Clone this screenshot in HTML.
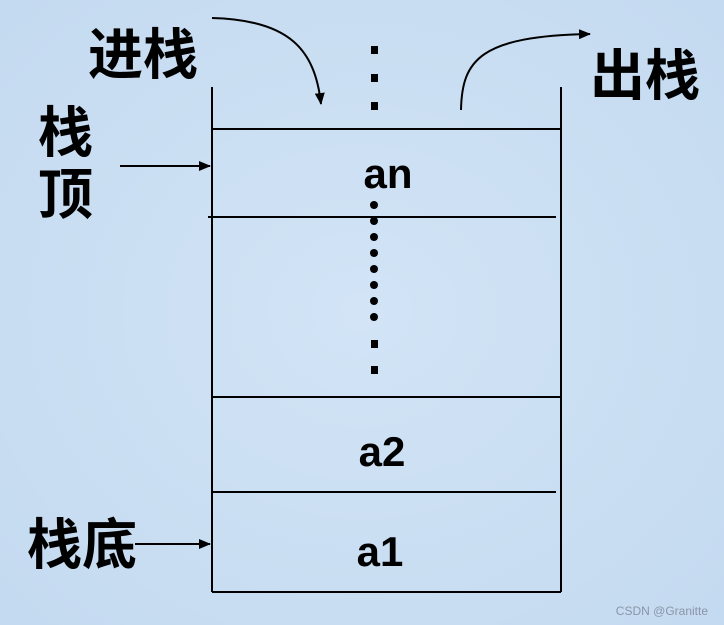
<!DOCTYPE html>
<html><head><meta charset="utf-8"><style>
html,body{margin:0;padding:0;}
body{width:724px;height:625px;background:#cadff3;overflow:hidden;}
svg{display:block}
.cn{font-family:"Liberation Sans","Noto Sans CJK SC",sans-serif;font-weight:bold;font-size:55px;fill:#000}
.lt{font-family:"Liberation Sans",sans-serif;font-weight:bold;font-size:42px;fill:#000}
</style></head><body>
<svg width="724" height="625" viewBox="0 0 724 625">
<defs>
<marker id="ah" markerWidth="12" markerHeight="10" refX="11" refY="5" orient="auto" markerUnits="userSpaceOnUse">
<path d="M0,0 L12,5 L0,10 Z" fill="#000"/></marker>
<radialGradient id="g" cx="50%" cy="50%" r="70%"><stop offset="0" stop-color="#d2e4f6"/><stop offset="1" stop-color="#c4daf0"/></radialGradient>
</defs>
<rect width="724" height="625" fill="url(#g)"/>
<g stroke="#000" stroke-width="2" fill="none">
<line x1="212" y1="87" x2="212" y2="592"/>
<line x1="561" y1="87" x2="561" y2="592"/>
<line x1="212" y1="592" x2="561" y2="592"/>
<line x1="212" y1="129" x2="561" y2="129"/>
<line x1="208" y1="217" x2="556" y2="217"/>
<line x1="212" y1="397" x2="561" y2="397"/>
<line x1="212" y1="492" x2="556" y2="492"/>
<path d="M212,18 C290,20 315,50 321,104" marker-end="url(#ah)"/>
<path d="M461,110 C462,60 480,36 590,34" marker-end="url(#ah)"/>
<line x1="120" y1="166" x2="210" y2="166" marker-end="url(#ah)"/>
<line x1="135" y1="544" x2="210" y2="544" marker-end="url(#ah)"/>
</g>
<g fill="#000">
<rect x="371" y="46" width="7" height="8"/>
<rect x="371" y="74" width="7" height="8"/>
<rect x="371" y="102" width="7" height="8"/>
<circle cx="374" cy="205" r="4"/>
<circle cx="374" cy="221" r="4"/>
<circle cx="374" cy="237" r="4"/>
<circle cx="374" cy="253" r="4"/>
<circle cx="374" cy="269" r="4"/>
<circle cx="374" cy="285" r="4"/>
<circle cx="374" cy="301" r="4"/>
<circle cx="374" cy="317" r="4"/>
<rect x="371" y="340" width="7" height="8"/>
<rect x="371" y="366" width="7" height="8"/>
</g>
<text class="cn" x="88" y="74">进栈</text>
<text class="cn" x="590" y="95">出栈</text>
<text class="cn" x="38" y="152">栈</text>
<text class="cn" x="38" y="214">顶</text>
<text class="cn" x="27" y="564">栈底</text>
<text class="lt" x="388" y="188" text-anchor="middle">an</text>
<text class="lt" x="382" y="466" text-anchor="middle">a2</text>
<text class="lt" x="380" y="566" text-anchor="middle">a1</text>
<text x="708" y="615" text-anchor="end" font-family="Liberation Sans,sans-serif" font-size="12" fill="#8a96a6">CSDN @Granitte</text>
</svg>
</body></html>
